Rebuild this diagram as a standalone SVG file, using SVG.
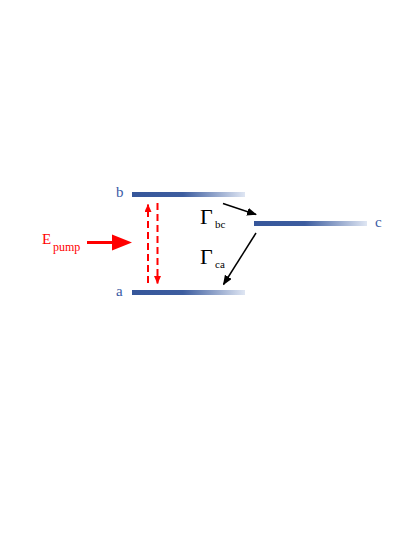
<svg xmlns="http://www.w3.org/2000/svg" width="415" height="537" viewBox="0 0 415 537">
<defs>
<linearGradient id="lvl" x1="0" y1="0" x2="1" y2="0">
<stop offset="0" stop-color="#36569a"/>
<stop offset="0.45" stop-color="#3d5d9f"/>
<stop offset="1" stop-color="#dfe6f3"/>
</linearGradient>
<marker id="ahk" markerWidth="10" markerHeight="8" refX="9" refY="4" orient="auto" markerUnits="userSpaceOnUse">
<path d="M0,0 L10,4 L0,8 z" fill="#000"/>
</marker>
<marker id="ahr" markerWidth="8" markerHeight="7" refX="7.5" refY="3.5" orient="auto" markerUnits="userSpaceOnUse">
<path d="M0,0 L8,3.5 L0,7 z" fill="#ff0000"/>
</marker>
</defs>
<style>
.lbl{font-family:"Liberation Serif",serif;fill:#3b5ba5;font-size:15px}
.red{font-family:"Liberation Serif",serif;fill:#ff0000}
.blk{font-family:"Liberation Serif",serif;fill:#000}
.dash{stroke:#ff0000;stroke-width:2;stroke-dasharray:7,4;fill:none}
.conn{stroke:#000;stroke-width:1.5;fill:none}
</style>
<rect width="415" height="537" fill="#fff"/>
<g id="level-b">
<rect x="132" y="192" width="113" height="5" fill="url(#lvl)"/>
<text class="lbl" x="116" y="197">b</text>
</g>
<g id="level-a">
<rect x="132" y="290" width="113" height="5" fill="url(#lvl)"/>
<text class="lbl" x="116" y="296">a</text>
</g>
<g id="level-c">
<rect x="254" y="221" width="113" height="5" fill="url(#lvl)"/>
<text class="lbl" x="375" y="227">c</text>
</g>
<g id="pump">
<text class="red" x="42" y="244" font-size="15">E</text>
<text class="red" x="53" y="251" font-size="12">pump</text>
<line x1="87" y1="242.5" x2="114" y2="242.5" stroke="#ff0000" stroke-width="3"/>
<path d="M112,234.5 L132,242.5 L112,250.5 z" fill="#ff0000"/>
</g>
<g id="connectors">
<line class="dash" x1="148" y1="283" x2="148" y2="204.5" marker-end="url(#ahr)"/>
<line class="dash" x1="157.5" y1="203" x2="157.5" y2="283.5" marker-end="url(#ahr)"/>
<line class="conn" x1="223" y1="203.5" x2="256" y2="214.5" marker-end="url(#ahk)"/>
<line class="conn" x1="256" y1="233" x2="223.5" y2="284.5" marker-end="url(#ahk)"/>
</g>
<g id="gamma-bc">
<text class="blk" x="200" y="224" font-size="22">Γ</text>
<text class="blk" x="215" y="228" font-size="11">bc</text>
</g>
<g id="gamma-ca">
<text class="blk" x="200" y="264" font-size="22">Γ</text>
<text class="blk" x="215" y="268" font-size="11">ca</text>
</g>
</svg>
